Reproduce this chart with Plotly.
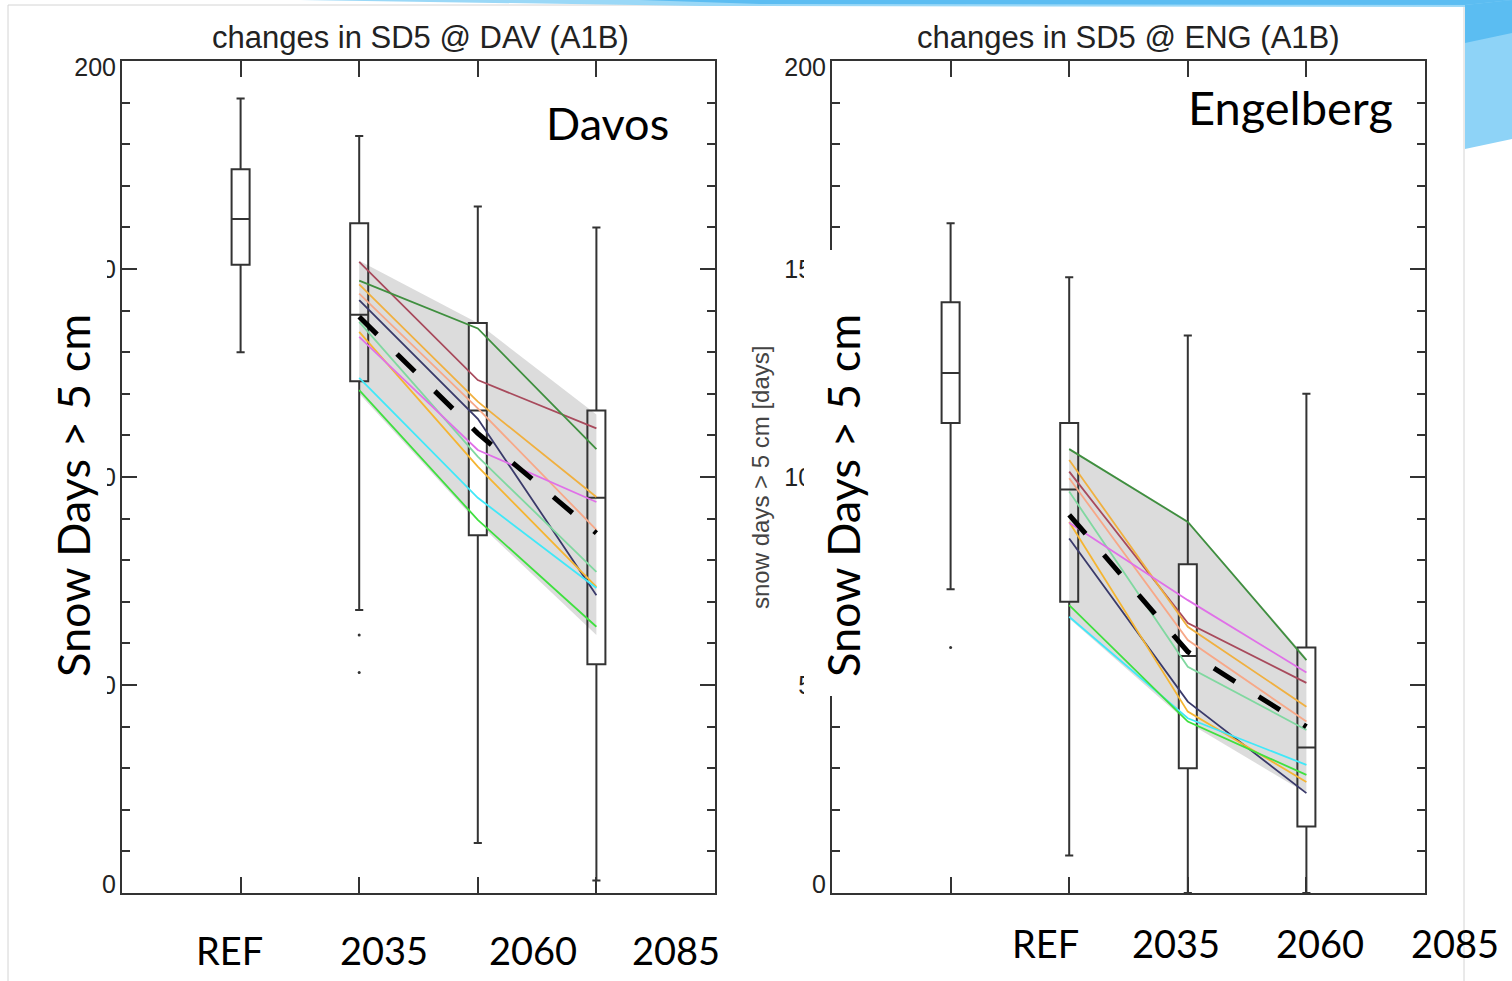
import plotly.graph_objects as go

W, H = 1512, 981


def fx(x):
    return x / W


def fy(y):
    return 1 - y / H


# ---------------- data ----------------
periods = ["REF", "2035", "2060", "2085"]
scen_periods = ["2035", "2060", "2085"]

# Davos box statistics (snow days > 5 cm)
dav_upper = [191, 182, 165, 160]
dav_q3 = [174, 161, 137, 116]
dav_median = [162, 139, 116, 95]
dav_q1 = [151, 123, 86, 55]
dav_lower = [130, 68, 12, 3]
dav_out_period = ["2035", "2035"]
dav_out_value = [62, 53]

# Engelberg box statistics
eng_upper = [161, 148, 134, 120]
eng_q3 = [142, 113, 79, 59]
eng_median = [125, 97, 57, 35]
eng_q1 = [113, 70, 30, 16]
eng_lower = [73, 9, 0, 0]
eng_out_period = ["REF"]
eng_out_value = [59]

# model chains (2035, 2060, 2085)
model_colors = ["#a84a5c", "#3f8f3f", "#f0b040", "#f7a888", "#3a3a6a",
                "#80d8a0", "#f5b532", "#e070e8", "#40e8f8", "#40e040"]
dav_models = [
    [151.7, 123.3, 111.7],
    [147.2, 135.7, 106.7],
    [146.3, 118.1, 95.2],
    [144.1, 116.5, 87.3],
    [142.5, 114.0, 71.6],
    [137.3, 104.9, 77.2],
    [134.9, 102.5, 73.6],
    [133.7, 106.5, 94.0],
    [123.8, 95.0, 73.3],
    [120.9, 89.7, 64.0],
]
dav_mean = [138.5, 110.5, 86.5]
dav_band_hi = [152, 137, 115]
dav_band_lo = [120, 89, 62]

eng_models = [
    [101.3, 64.9, 50.5],
    [106.7, 89.2, 56.0],
    [104.1, 64.0, 44.8],
    [99.7, 60.8, 41.2],
    [85.2, 46.0, 24.0],
    [96.5, 54.4, 39.2],
    [89.2, 43.6, 26.7],
    [89.0, 70.4, 53.0],
    [66.4, 42.0, 30.8],
    [69.2, 41.2, 28.4],
]
eng_mean = [90.9, 58.0, 40.0]
eng_band_hi = [107, 89.5, 56.5]
eng_band_lo = [66, 41, 24]

ytick_vals = [0, 50, 100, 150, 200]
ytick_text = ["0", "50", "100", "150", "200"]
# label anchor positions (end labels sit slightly inside the frame)
ylabel_pos = [2.2, 50, 100, 150, 198.6]

# ---------------- figure ----------------
pos = {p: i + 1 for i, p in enumerate(periods)}
BOX_LINE = "#333333"

fig = go.Figure()


def add_panel(xa, ya, xo, yo, upper, q3, med, q1, lower, out_p, out_v,
              models, mean, band_hi, band_lo):
    sx = [pos[p] for p in scen_periods]
    # grey envelope on base axes
    fig.add_trace(go.Scatter(
        x=sx + sx[::-1], y=band_hi + band_lo[::-1], fill="toself",
        fillcolor="#dcdcdc", line=dict(width=0), mode="lines",
        xaxis=xa, yaxis=ya, showlegend=False, hoverinfo="skip"))
    # boxes on overlay axes
    for i, p in enumerate(periods):
        fig.add_trace(go.Box(
            x=[pos[p]], q1=[q1[i]], median=[med[i]], q3=[q3[i]],
            lowerfence=[lower[i]], upperfence=[upper[i]],
            width=0.152, whiskerwidth=0.45,
            fillcolor="white" if p == "2060" else "rgba(255,255,255,0)",
            line=dict(color=BOX_LINE, width=2), boxpoints=False,
            xaxis=xo, yaxis=yo, showlegend=False))
    for vals, c in zip(models, model_colors):
        fig.add_trace(go.Scatter(
            x=sx, y=vals, mode="lines", line=dict(color=c, width=1.8),
            xaxis=xo, yaxis=yo, showlegend=False))
    fig.add_trace(go.Scatter(
        x=sx, y=mean, mode="lines",
        line=dict(color="black", width=5, dash="25px,28px"),
        xaxis=xo, yaxis=yo, showlegend=False))
    fig.add_trace(go.Scatter(
        x=[pos[p] for p in out_p], y=out_v, mode="markers",
        marker=dict(color=BOX_LINE, size=3),
        xaxis=xo, yaxis=yo, showlegend=False))


add_panel("x", "y", "x3", "y3", dav_upper, dav_q3, dav_median, dav_q1,
          dav_lower, dav_out_period, dav_out_value, dav_models, dav_mean,
          dav_band_hi, dav_band_lo)
add_panel("x2", "y2", "x4", "y4", eng_upper, eng_q3, eng_median, eng_q1,
          eng_lower, eng_out_period, eng_out_value, eng_models, eng_mean,
          eng_band_hi, eng_band_lo)

tick_font = dict(family="Liberation Sans, Arial", size=25, color="#222")
ydom = [fy(893), fy(61)]


def xaxis_style(dom):
    return dict(domain=dom, range=[0, 5], tickvals=[1, 2, 3, 4],
                ticks="inside", ticklen=16, tickwidth=2, tickcolor=BOX_LINE,
                showticklabels=False, showline=True, linecolor=BOX_LINE,
                linewidth=2, mirror="ticks", showgrid=False, zeroline=False,
                fixedrange=True, automargin=False)


def yaxis_style():
    return dict(domain=ydom, range=[0, 200], tickvals=ytick_vals,
                ticks="inside", ticklen=15, tickwidth=2, tickcolor=BOX_LINE,
                minor=dict(dtick=10, ticks="inside", ticklen=8, tickwidth=2,
                           tickcolor=BOX_LINE, showgrid=False),
                showticklabels=False, showline=True, linecolor=BOX_LINE,
                linewidth=2, mirror="ticks", showgrid=False, zeroline=False,
                fixedrange=True, automargin=False)


ov = dict(range=[0, 5], visible=False, fixedrange=True, automargin=False)
# overlay y axis carries only the tick labels
ovy = dict(range=[0, 200], visible=True, showline=False, ticks="",
           showgrid=False, zeroline=False, tickvals=ylabel_pos,
           ticktext=ytick_text, tickfont=tick_font, ticklabelstandoff=5,
           fixedrange=True, automargin=False)


def poly(points):
    return "M " + " L ".join(f"{fx(a)},{fy(b)}" for a, b in points) + " Z"


# decorations
shapes = [
    # slide frame
    dict(type="line", xref="paper", yref="paper", x0=fx(8), x1=fx(8),
         y0=fy(5), y1=0, line=dict(color="#d4d4d4", width=1), layer="below"),
    dict(type="line", xref="paper", yref="paper", x0=fx(8), x1=fx(1464),
         y0=fy(5), y1=fy(5), line=dict(color="#d4d4d4", width=1), layer="below"),
    dict(type="line", xref="paper", yref="paper", x0=fx(1464), x1=fx(1464),
         y0=fy(5), y1=0, line=dict(color="#d4d4d4", width=1), layer="below"),
    # blue header pieces
    dict(type="path", xref="paper", yref="paper",
         path=poly([(300, 0), (1512, 0), (1512, 7), (700, 6)]),
         fillcolor="#9ad8f7", line=dict(width=0), layer="below"),
    dict(type="path", xref="paper", yref="paper",
         path=poly([(640, 0), (1512, 0), (1512, 5), (760, 4)]),
         fillcolor="#5cbdf2", line=dict(width=0), layer="below"),
    dict(type="path", xref="paper", yref="paper",
         path=poly([(1465, 5), (1512, 0), (1512, 139), (1465, 149)]),
         fillcolor="#8ed3f7", line=dict(width=0), layer="below"),
    dict(type="path", xref="paper", yref="paper",
         path=poly([(1465, 5), (1512, 0), (1512, 33), (1465, 43)]),
         fillcolor="#5bbdf2", line=dict(width=0), layer="below"),
    # white text boxes of the slide covering parts of the axes
    dict(type="rect", xref="paper", yref="paper", x0=fx(30), x1=fx(107),
         y0=fy(700), y1=fy(250), fillcolor="white", line=dict(width=0),
         layer="above"),
    dict(type="rect", xref="paper", yref="paper", x0=fx(804), x1=fx(872),
         y0=fy(696), y1=fy(250), fillcolor="white", line=dict(width=0),
         layer="above"),
]

slide_font = "Lato, Carlito, Open Sans, sans-serif"
annotations = []


def note(text, x, y, family, size, color="black", angle=0):
    annotations.append(dict(text=text, x=fx(x), y=fy(y), xref="paper",
                            yref="paper", showarrow=False, textangle=angle,
                            xanchor="center", yanchor="middle",
                            font=dict(family=family, size=size, color=color)))


arial = "Liberation Sans, Arial"
note("changes in SD5 @ DAV (A1B)", 420, 38, arial, 31, "#222")
note("changes in SD5 @ ENG (A1B)", 1128, 38, arial, 31, "#222")
note("snow days > 5 cm [days]", 760, 478, arial, 24, "#444", -90)
note("Davos", 607, 123, slide_font, 45)
note("Engelberg", 1290, 107, slide_font, 47)
note("Snow Days > 5 cm", 73, 496, slide_font, 45, angle=-90)
note("Snow Days > 5 cm", 843, 496, slide_font, 45, angle=-90)

left_lbl_x = [229, 384, 533, 676]
right_lbl_x = [1045, 1176, 1320, 1455]
for p, x in zip(periods, left_lbl_x):
    note(p, x, 950, slide_font, 38)
for p, x in zip(periods, right_lbl_x):
    note(p, x, 943, slide_font, 38)

fig.update_layout(
    width=W, height=H,
    margin=dict(l=0, r=0, t=0, b=0, pad=0, autoexpand=False),
    paper_bgcolor="white", plot_bgcolor="rgba(0,0,0,0)",
    showlegend=False, boxmode="overlay",
    xaxis=dict(xaxis_style([fx(122), fx(715)]), anchor="y"),
    yaxis=dict(yaxis_style(), anchor="x"),
    xaxis2=dict(xaxis_style([fx(832), fx(1425)]), anchor="y2"),
    yaxis2=dict(yaxis_style(), anchor="x2"),
    xaxis3=dict(ov, overlaying="x", anchor="y3"),
    yaxis3=dict(ovy, overlaying="y", anchor="x3"),
    xaxis4=dict(ov, overlaying="x2", anchor="y4"),
    yaxis4=dict(ovy, overlaying="y2", anchor="x4"),
    shapes=shapes, annotations=annotations,
)

fig.write_html("out.html")
